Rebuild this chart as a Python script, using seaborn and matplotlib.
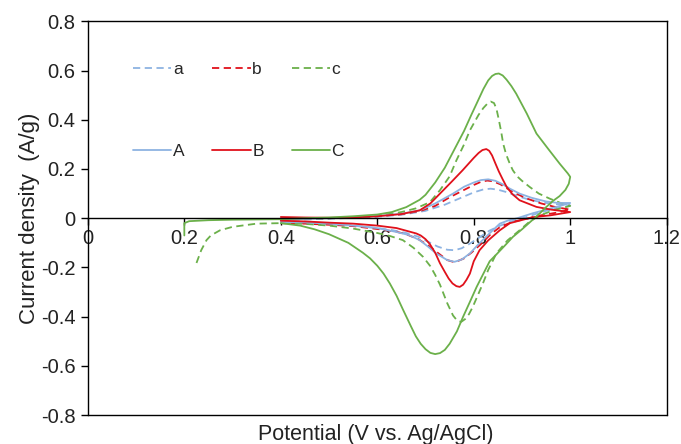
# Cyclic voltammograms, dashed (a-c) vs solid (A-C)

import matplotlib
matplotlib.use('Agg')
import matplotlib.pyplot as plt
import seaborn as sns
from matplotlib.ticker import FuncFormatter

# --- data (potential V, current density A/g) ---
a_x = [0.4, 0.5, 0.6, 0.65, 0.7, 0.74, 0.77, 0.8, 0.82, 0.835, 0.85, 0.87, 0.895, 0.92, 0.95, 0.975, 1.0,
       0.97, 0.94, 0.91, 0.88, 0.855, 0.833, 0.81, 0.792, 0.775, 0.76, 0.745, 0.725, 0.705, 0.685, 0.66,
       0.63, 0.6, 0.55, 0.5, 0.45, 0.4]
a_y = [-0.008, -0.002, 0.006, 0.014, 0.03, 0.055, 0.08, 0.105, 0.117, 0.12, 0.116, 0.105, 0.087, 0.073,
       0.062, 0.056, 0.052,
       0.04, 0.025, 0.005, -0.012, -0.03, -0.05, -0.08, -0.103, -0.122, -0.13, -0.128, -0.115, -0.095,
       -0.075, -0.06, -0.048, -0.04, -0.03, -0.024, -0.02, -0.018]

b_x = [0.4, 0.5, 0.6, 0.65, 0.69, 0.72, 0.75, 0.78, 0.8, 0.815, 0.828, 0.84, 0.855, 0.87, 0.89, 0.91, 0.94,
       0.97, 1.0,
       0.97, 0.94, 0.91, 0.88, 0.855, 0.835, 0.815, 0.795, 0.78, 0.768, 0.757, 0.745, 0.725, 0.705, 0.685,
       0.66, 0.64, 0.605, 0.55, 0.515, 0.45, 0.4]
b_y = [-0.002, 0.0, 0.008, 0.016, 0.03, 0.05, 0.085, 0.115, 0.135, 0.148, 0.153, 0.15, 0.138, 0.12, 0.098,
       0.08, 0.06, 0.045, 0.035,
       0.022, 0.012, -0.002, -0.015, -0.035, -0.065, -0.105, -0.14, -0.163, -0.173, -0.177, -0.17, -0.14,
       -0.11, -0.085, -0.065, -0.055, -0.045, -0.032, -0.028, -0.022, -0.02]

c_x = [0.4, 0.45, 0.5, 0.55, 0.6, 0.65, 0.68, 0.709, 0.73, 0.75, 0.764, 0.78, 0.792, 0.81, 0.82, 0.828,
       0.835, 0.842, 0.847, 0.852, 0.857, 0.861, 0.867, 0.875, 0.881, 0.89, 0.9, 0.916, 0.935, 0.957, 0.98,
       1.0,
       0.97, 0.937, 0.915, 0.895, 0.87, 0.847, 0.83, 0.819, 0.798, 0.79, 0.782, 0.774, 0.766, 0.757, 0.745,
       0.73, 0.72, 0.71, 0.695, 0.675, 0.653, 0.626, 0.6, 0.55, 0.5, 0.45, 0.4, 0.35, 0.3, 0.274, 0.255,
       0.246, 0.235, 0.225]
c_y = [-0.005, -0.002, 0.0, 0.004, 0.01, 0.025, 0.04, 0.065, 0.114, 0.17, 0.235, 0.3, 0.357, 0.42, 0.448,
       0.465, 0.474, 0.468, 0.445, 0.4, 0.35, 0.303, 0.26, 0.22, 0.195, 0.17, 0.152, 0.127, 0.1, 0.08,
       0.062, 0.05,
       0.035, 0.012, -0.015, -0.049, -0.09, -0.143, -0.21, -0.265, -0.36, -0.39, -0.41, -0.421, -0.417,
       -0.395, -0.345, -0.27, -0.23, -0.195, -0.157, -0.12, -0.089, -0.072, -0.06, -0.042, -0.03, -0.023,
       -0.02, -0.022, -0.035, -0.049, -0.07, -0.089, -0.13, -0.183]

A_x = [0.4, 0.45, 0.5, 0.55, 0.6, 0.65, 0.688, 0.72, 0.757, 0.78, 0.8, 0.815, 0.83, 0.845, 0.86, 0.875,
       0.895, 0.92, 0.95, 0.975, 1.0,
       0.97, 0.95, 0.922, 0.89, 0.87, 0.854, 0.833, 0.81, 0.792, 0.775, 0.76, 0.745, 0.722, 0.705, 0.688,
       0.665, 0.64, 0.6, 0.55, 0.5, 0.45, 0.4]
A_y = [-0.005, -0.003, 0.0, 0.004, 0.009, 0.018, 0.032, 0.06, 0.1, 0.128, 0.145, 0.155, 0.158, 0.152,
       0.138, 0.12, 0.1, 0.083, 0.068, 0.062, 0.062,
       0.045, 0.035, 0.02, 0.0, -0.01, -0.022, -0.061, -0.105, -0.143, -0.168, -0.177, -0.17, -0.143,
       -0.115, -0.089, -0.068, -0.056, -0.04, -0.03, -0.022, -0.017, -0.015]

B_x = [0.4, 0.45, 0.5, 0.55, 0.6, 0.65, 0.688, 0.71, 0.73, 0.755, 0.777, 0.8, 0.81, 0.818, 0.826, 0.832,
       0.838, 0.845, 0.852, 0.86, 0.868, 0.88, 0.895, 0.93, 0.96, 1.0,
       0.96, 0.922, 0.875, 0.854, 0.83, 0.812, 0.8, 0.792, 0.785, 0.778, 0.771, 0.764, 0.756, 0.748, 0.74,
       0.73, 0.72, 0.709, 0.7, 0.69, 0.681, 0.64, 0.6, 0.55, 0.5, 0.45, 0.4]
B_y = [0.005, 0.003, 0.002, 0.003, 0.008, 0.017, 0.032, 0.06, 0.1, 0.15, 0.195, 0.245, 0.265, 0.277,
       0.281, 0.274, 0.255, 0.222, 0.19, 0.158, 0.128, 0.098, 0.073, 0.046, 0.035, 0.025,
       0.012, 0.004, -0.02, -0.049, -0.09, -0.13, -0.175, -0.225, -0.25, -0.27, -0.279, -0.276, -0.265,
       -0.245, -0.218, -0.183, -0.14, -0.105, -0.085, -0.07, -0.062, -0.04, -0.03, -0.022, -0.018, -0.013,
       -0.01]

C_x = [0.2, 0.2, 0.21, 0.25, 0.3, 0.35, 0.4, 0.45, 0.5, 0.55, 0.6, 0.63, 0.66, 0.688, 0.7, 0.72, 0.74,
       0.76, 0.78, 0.795, 0.806, 0.82, 0.83, 0.838, 0.845, 0.852, 0.86, 0.868, 0.878, 0.888, 0.91, 0.93,
       0.955, 0.978, 0.995, 1.0,
       0.997, 0.99, 0.978, 0.964, 0.95, 0.937, 0.92, 0.9, 0.881, 0.865, 0.848, 0.833, 0.82, 0.806, 0.792,
       0.778, 0.765, 0.75, 0.74, 0.73, 0.72, 0.71, 0.7, 0.69, 0.68, 0.67, 0.653, 0.64, 0.626, 0.613, 0.6,
       0.585, 0.57, 0.54, 0.5, 0.47, 0.44, 0.4]
C_y = [-0.07, -0.02, -0.012, -0.008, -0.006, -0.005, -0.004, 0.0, 0.003, 0.008, 0.015, 0.025, 0.045,
       0.075, 0.095, 0.145, 0.205, 0.28, 0.355, 0.42, 0.466, 0.525, 0.56, 0.578, 0.586, 0.588, 0.58, 0.563,
       0.537, 0.506, 0.425, 0.344, 0.28, 0.222, 0.182, 0.168,
       0.14, 0.115, 0.09, 0.07, 0.045, 0.02, -0.01, -0.045, -0.076, -0.11, -0.145, -0.175, -0.225, -0.279,
       -0.34, -0.4, -0.46, -0.51, -0.535, -0.548, -0.552, -0.547, -0.532, -0.51, -0.48, -0.44, -0.37,
       -0.315, -0.265, -0.225, -0.193, -0.163, -0.14, -0.1, -0.065, -0.045, -0.03, -0.02]

x_ticks = [0, 0.2, 0.4, 0.6, 0.8, 1.0, 1.2]
y_ticks = [-0.8, -0.6, -0.4, -0.2, 0, 0.2, 0.4, 0.6, 0.8]

BLUE = '#8db3e2'
RED = '#e0111b'
GREEN = '#6bb04a'


def setup_plot_style():
    sns.set_style('white')
    plt.rcParams['font.family'] = ['Liberation Sans', 'DejaVu Sans']
    plt.rcParams['axes.unicode_minus'] = False


def main():
    setup_plot_style()
    fig = plt.figure(figsize=(6.81, 4.44), dpi=100)
    ax = fig.add_axes([0.129, 0.065, 0.850, 0.887])

    curves = [
        ('a', a_x, a_y, BLUE, (4, 2.5)),
        ('b', b_x, b_y, RED, (4, 2.5)),
        ('c', c_x, c_y, GREEN, (4, 2.5)),
        ('A', A_x, A_y, BLUE, None),
        ('B', B_x, B_y, RED, None),
        ('C', C_x, C_y, GREEN, None),
    ]
    handles = {}
    for name, xs, ys, col, dash in curves:
        kw = dict(dashes=dash) if dash else dict(linestyle='-')
        sns.lineplot(x=xs, y=ys, sort=False, estimator=None, ax=ax, color=col,
                     linewidth=1.3, label=name, **kw)
        handles[name] = ax.lines[-1]

    ax.set_xlim(0, 1.2)
    ax.set_ylim(-0.8, 0.8)
    ax.set_xticks(x_ticks)
    ax.set_yticks(y_ticks)
    fmt = FuncFormatter(lambda v, p: f'{v:g}')
    ax.xaxis.set_major_formatter(fmt)
    ax.yaxis.set_major_formatter(fmt)

    # x axis sits on y = 0, box closed with a line at the bottom
    ax.spines['bottom'].set_position(('data', 0))
    for s in ax.spines.values():
        s.set_color('black')
        s.set_linewidth(1.0)
    ax.plot([0, 1], [0, 0], transform=ax.transAxes, color='black', lw=1.0,
            clip_on=False, zorder=3)

    ax.tick_params(axis='x', direction='out', length=5, width=1, pad=3,
                   labelsize=14.5, colors='black', bottom=True)
    ax.tick_params(axis='y', direction='out', length=5, width=1, pad=4,
                   labelsize=14.5, colors='black', left=True)
    for lab in ax.get_xticklabels() + ax.get_yticklabels():
        lab.set_color('#222222')

    ax.set_xlabel('Potential (V vs. Ag/AgCl)', fontsize=15.5, color='#222222')
    ax.set_ylabel('Current density  (A/g)', fontsize=16, color='#222222')
    ax.xaxis.set_label_coords(0.497, -0.022)
    ax.yaxis.set_label_coords(-0.083, 0.5)

    order = ['a', 'A', 'b', 'B', 'c', 'C']
    ax.legend([handles[n] for n in order], order, ncol=3, loc='upper left',
              bbox_to_anchor=(0.078, 0.897), frameon=False, fontsize=12.5,
              handlelength=2.2, handletextpad=0.1, columnspacing=1.6,
              labelspacing=3.85, borderpad=0, borderaxespad=0)

    fig.savefig('out.png', dpi=100)


if __name__ == '__main__':
    main()
